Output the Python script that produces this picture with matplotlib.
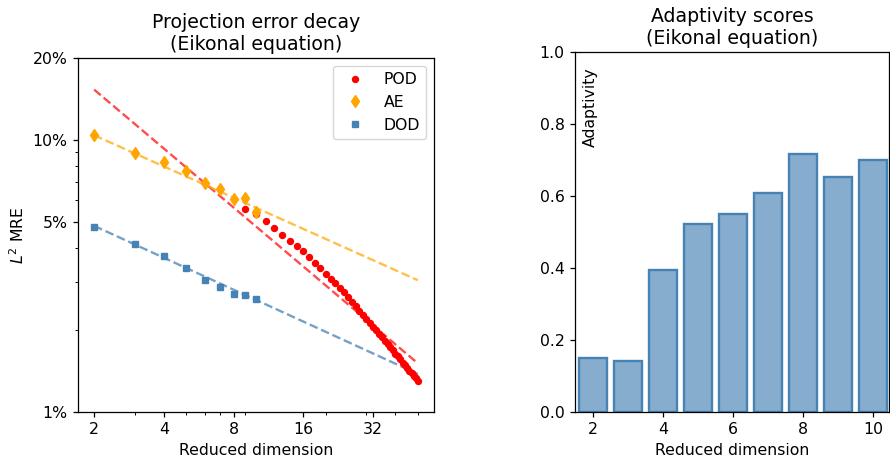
import matplotlib
matplotlib.use("Agg")
import matplotlib.pyplot as plt
from matplotlib.ticker import FixedLocator, FixedFormatter, NullFormatter, LogLocator

# ---------------- data ----------------
ae_dims = [2, 3, 4, 5, 6, 7, 8, 9, 10]
ae_err = [10.4, 8.93, 8.26, 7.69, 6.97, 6.60, 6.05, 6.13, 5.42]          # %

dod_dims = [2, 3, 4, 5, 6, 7, 8, 9, 10]
dod_err = [4.80, 4.14, 3.75, 3.37, 3.05, 2.87, 2.71, 2.69, 2.60]         # %

pod_dims = list(range(9, 51))
pod_err = [5.56, 5.33, 5.02, 4.73, 4.46, 4.26, 4.09, 3.91, 3.71, 3.53,
           3.39, 3.22, 3.08, 2.97, 2.86, 2.75, 2.65, 2.54, 2.45, 2.36,
           2.28, 2.20, 2.13, 2.06, 2.00, 1.94, 1.88, 1.83, 1.78, 1.73,
           1.69, 1.64, 1.60, 1.56, 1.52, 1.49, 1.45, 1.42, 1.39, 1.36,
           1.33, 1.30]                                                     # %

# fitted trend lines (endpoints)
fit_dims = [2, 50]
pod_fit = [15.3, 1.51]
ae_fit = [10.4, 3.05]
dod_fit = [4.83, 1.38]

adapt_dims = [2, 3, 4, 5, 6, 7, 8, 9, 10]
adapt_scores = [0.149, 0.142, 0.395, 0.524, 0.551, 0.609, 0.718, 0.653, 0.701]

x_ticks = [2, 4, 8, 16, 32]
y_ticks = [1, 5, 10, 20]
y_tick_labels = ["1%", "5%", "10%", "20%"]

# ---------------- style ----------------
s = 1.13
plt.rcParams.update({
    "font.size": 10 * s,
    "axes.linewidth": 0.8 * s,
    "xtick.major.width": 0.8 * s, "ytick.major.width": 0.8 * s,
    "xtick.minor.width": 0.6 * s, "ytick.minor.width": 0.6 * s,
    "xtick.major.size": 3.5 * s, "ytick.major.size": 3.5 * s,
    "xtick.minor.size": 2.0 * s, "ytick.minor.size": 2.0 * s,
})

# ---------------- figure ----------------
fig = plt.figure(figsize=(8.9, 4.61), dpi=100)
ax1 = fig.add_axes([0.0876, 0.1063, 0.400, 0.768])
ax2 = fig.add_axes([0.646, 0.1063, 0.3528, 0.780])

# left: projection error decay
ax1.set_xscale("log")
ax1.set_yscale("log")
ax1.plot(fit_dims, pod_fit, "--", color="red", alpha=0.7, lw=1.5 * s)
ax1.plot(fit_dims, ae_fit, "--", color="orange", alpha=0.7, lw=1.5 * s)
ax1.plot(fit_dims, dod_fit, "--", color="steelblue", alpha=0.75, lw=1.5 * s)
ax1.plot(pod_dims, pod_err, "o", color="red", ms=4.3, ls="none", label="POD")
ax1.plot(ae_dims, ae_err, "d", color="orange", ms=6.0, ls="none", label="AE")
ax1.plot(dod_dims, dod_err, "s", color="steelblue", ms=4.8, ls="none", label="DOD")

ax1.set_ylim(1, 20)
ax1.xaxis.set_major_locator(FixedLocator(x_ticks))
ax1.xaxis.set_major_formatter(FixedFormatter([str(t) for t in x_ticks]))
ax1.xaxis.set_minor_formatter(NullFormatter())
ax1.yaxis.set_major_locator(FixedLocator(y_ticks))
ax1.yaxis.set_major_formatter(FixedFormatter(y_tick_labels))
ax1.yaxis.set_minor_locator(LogLocator(base=10, subs=range(2, 10)))
ax1.yaxis.set_minor_formatter(NullFormatter())
ax1.set_xlabel("Reduced dimension")
ax1.set_ylabel("$L^2$ MRE")
ax1.set_title("Projection error decay\n(Eikonal equation)", fontsize=12 * s)
ax1.legend(loc="upper right")

# right: adaptivity scores
ax2.bar(adapt_dims, adapt_scores, width=0.8,
        facecolor=(70/255, 130/255, 180/255, 0.65),
        edgecolor="steelblue", linewidth=1.5 * s)
ax2.set_xlim(1.48, 10.45)
ax2.set_ylim(0, 1)
ax2.set_xticks([2, 4, 6, 8, 10])
ax2.set_yticks([0.0, 0.2, 0.4, 0.6, 0.8, 1.0])
ax2.set_xlabel("Reduced dimension")
ax2.set_title("Adaptivity scores\n(Eikonal equation)", fontsize=12 * s)
ax2.text(0.025, 0.96, "Adaptivity", rotation=90, ha="left", va="top",
         transform=ax2.transAxes, fontsize=10 * s)

fig.savefig("out.png", dpi=100)
